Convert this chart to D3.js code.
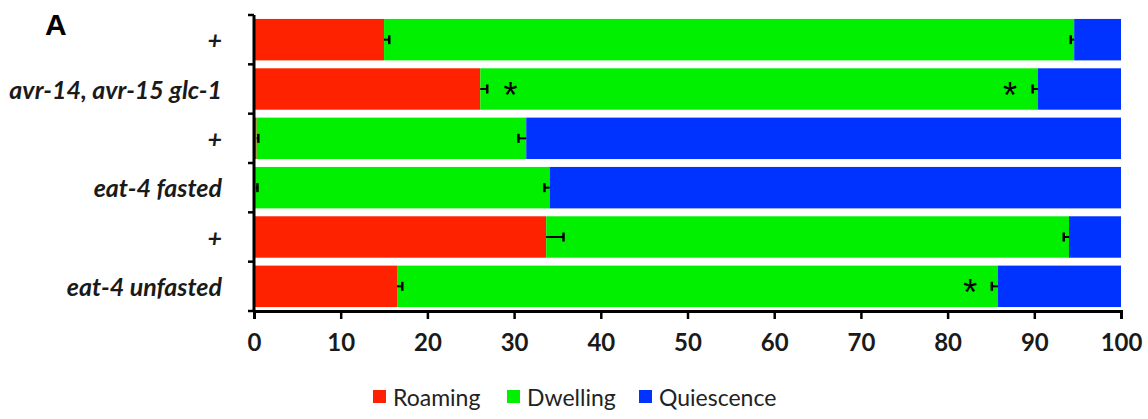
<!DOCTYPE html>
<html>
<head>
<meta charset="utf-8">
<script src="https://cdn.jsdelivr.net/npm/d3@7"></script>
<style>
  body { margin: 0; background: #fff; }
  svg { display: block; }
</style>
</head>
<body>
<svg id="chart" width="1148" height="419"></svg>
<script>
var categories = ["+", "avr-14, avr-15 glc-1", "+", "eat-4 fasted", "+", "eat-4 unfasted"];
var roaming = [15.0, 26.1, 0.3, 0.2, 33.7, 16.5];
var dwelling = [79.6, 64.3, 31.1, 33.9, 60.3, 69.3];
var quiescence = [5.4, 9.6, 68.6, 65.9, 6.0, 14.2];
var roamingErr = [0.6, 0.8, 0.2, 0.2, 2.0, 0.6];
var dwellingErr = [0.4, 0.6, 0.9, 0.6, 0.6, 0.7];
var roamingStar = [false, true, false, false, false, false];
var dwellingStar = [false, true, false, false, false, true];
var seriesNames = ["Roaming", "Dwelling", "Quiescence"];
var xTicks = [0, 10, 20, 30, 40, 50, 60, 70, 80, 90, 100];

var width = 1148;
var height = 419;
var margin = { top: 15, right: 27, bottom: 108, left: 254 };
var colors = ["#ff2200", "#00f000", "#0033ff"];

var svg = d3.select("#chart");

var rows = categories.map((c, i) => ({
    i: i,
    name: c,
    vals: [roaming[i], dwelling[i], quiescence[i]]
}));

var xScale = d3.scaleLinear()
    .domain([0, 100])
    .range([margin.left, width - margin.right]);

var yScale = d3.scaleBand()
    .domain(rows.map(d => d.i))
    .range([margin.top, height - margin.bottom])
    .paddingInner(0.16)
    .paddingOuter(0.08);

// stacked segments
var stack = d3.stack().keys([0, 1, 2]).value((d, k) => d.vals[k]);
var layers = stack(rows);

svg.append("g")
    .selectAll("g")
    .data(layers)
    .enter()
    .append("g")
    .attr("fill", (d, k) => colors[k])
    .selectAll("rect")
    .data(d => d)
    .enter()
    .append("rect")
    .attr("x", d => xScale(d[0]))
    .attr("y", d => yScale(d.data.i))
    .attr("width", d => xScale(d[1]) - xScale(d[0]))
    .attr("height", yScale.bandwidth());

// error bars
var eb = svg.append("g").attr("stroke", "#000").attr("stroke-width", 2);
var capH = 9;
rows.forEach(d => {
    var cy = yScale(d.i) + yScale.bandwidth() / 2;
    var r0 = roaming[d.i], r1 = roaming[d.i] + roamingErr[d.i];
    eb.append("line")
        .attr("x1", xScale(r0)).attr("x2", xScale(r1))
        .attr("y1", cy).attr("y2", cy);
    eb.append("line")
        .attr("x1", xScale(r1)).attr("x2", xScale(r1))
        .attr("y1", cy - capH / 2).attr("y2", cy + capH / 2)
        .attr("stroke-width", 2.5);
    var d0 = roaming[d.i] + dwelling[d.i], d1 = d0 - dwellingErr[d.i];
    eb.append("line")
        .attr("x1", xScale(d0)).attr("x2", xScale(d1))
        .attr("y1", cy).attr("y2", cy);
    eb.append("line")
        .attr("x1", xScale(d1)).attr("x2", xScale(d1))
        .attr("y1", cy - capH / 2).attr("y2", cy + capH / 2)
        .attr("stroke-width", 2.5);
});

// significance stars
var stars = svg.append("g")
    .style("font-family", "'Liberation Sans', Arial, sans-serif")
    .style("font-size", "36px")
    .attr("text-anchor", "middle");
rows.forEach(d => {
    var cy = yScale(d.i) + yScale.bandwidth() / 2 + 19;
    if (roamingStar[d.i]) {
        stars.append("text")
            .attr("x", xScale(roaming[d.i] + 3.5))
            .attr("y", cy)
            .text("*");
    }
    if (dwellingStar[d.i]) {
        stars.append("text")
            .attr("x", xScale(roaming[d.i] + dwelling[d.i] - 3.2))
            .attr("y", cy)
            .text("*");
    }
});

// x axis
var xAxis = d3.axisBottom(xScale)
    .tickValues(xTicks)
    .tickSize(8)
    .tickSizeOuter(8)
    .tickPadding(15);

var xg = svg.append("g")
    .attr("transform", `translate(0,${height - margin.bottom})`)
    .call(xAxis);
xg.select(".domain").attr("stroke-width", 3);
xg.selectAll(".tick line").attr("stroke-width", 2.5);
xg.selectAll("text")
    .style("font-family", "Lato, 'Open Sans', sans-serif")
    .style("font-size", "24px")
    .style("font-weight", "bold")
    .attr("fill", "#1a1a1a");

// y axis: line with ticks at band boundaries
var step = yScale.step();
var bounds = rows.map(d => yScale(d.i) - step * 0.08).concat([height - margin.bottom]);
var yg = svg.append("g");
yg.append("line")
    .attr("x1", margin.left).attr("x2", margin.left)
    .attr("y1", margin.top).attr("y2", height - margin.bottom)
    .attr("stroke", "#000").attr("stroke-width", 3);
yg.selectAll(".ytick")
    .data(bounds)
    .enter()
    .append("line")
    .attr("x1", margin.left - 6).attr("x2", margin.left)
    .attr("y1", d => d).attr("y2", d => d)
    .attr("stroke", "#000").attr("stroke-width", 2.5);

yg.selectAll(".ylabel")
    .data(rows)
    .enter()
    .append("text")
    .attr("x", 222)
    .attr("y", d => yScale(d.i) + yScale.bandwidth() / 2 + 1)
    .attr("dy", "0.35em")
    .attr("text-anchor", "end")
    .style("font-family", "Lato, 'Open Sans', sans-serif")
    .style("font-size", "25px")
    .style("font-style", "italic")
    .style("font-weight", "bold")
    .attr("fill", "#1a1a1a")
    .text(d => d.name);

// panel letter
svg.append("text")
    .attr("x", 45)
    .attr("y", 35)
    .style("font-family", "'Liberation Sans', Arial, sans-serif")
    .style("font-size", "30px")
    .style("font-weight", "bold")
    .text("A");

// legend
var legendX = [373, 507, 639];
var legend = svg.append("g");
seriesNames.forEach((name, k) => {
    legend.append("rect")
        .attr("x", legendX[k]).attr("y", 390)
        .attr("width", 13).attr("height", 13)
        .attr("fill", colors[k]);
    legend.append("text")
        .attr("x", legendX[k] + 20)
        .attr("y", 406)
        .style("font-family", "Lato, 'Open Sans', sans-serif")
        .style("font-size", "23px")
        .attr("fill", "#222")
        .text(name);
});
</script>
</body>
</html>
